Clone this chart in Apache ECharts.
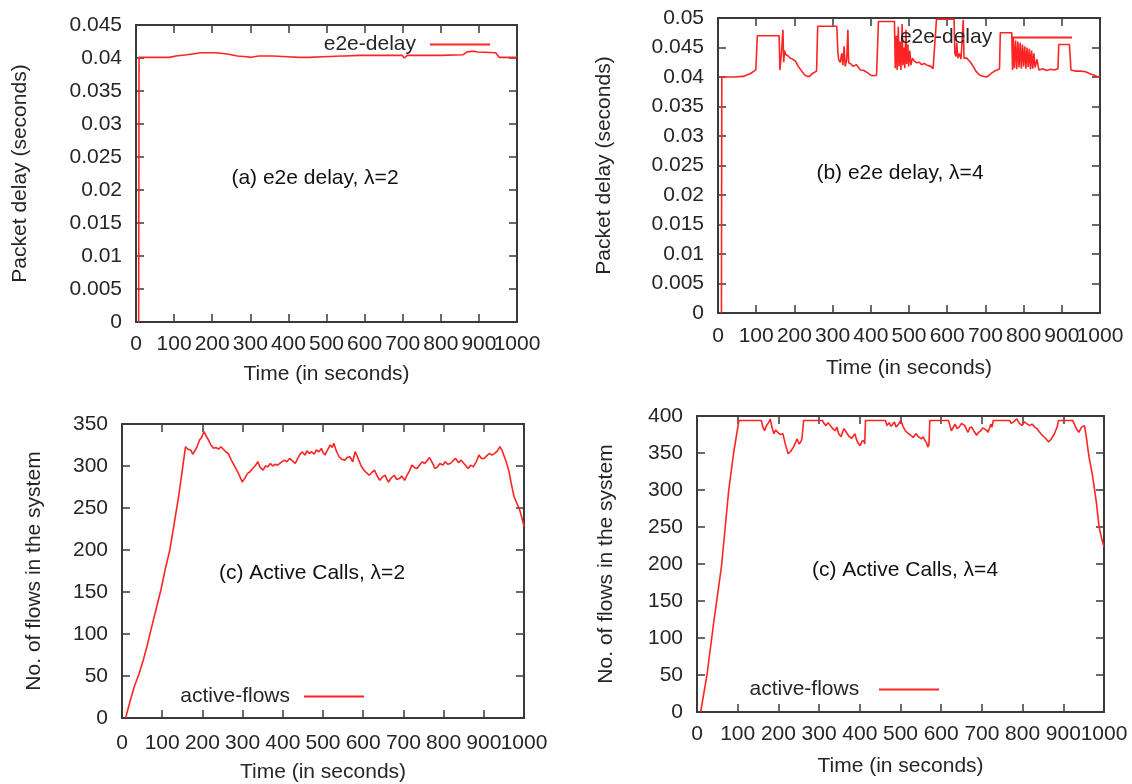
<!DOCTYPE html>
<html>
<head>
<meta charset="utf-8">
<script src="https://cdn.jsdelivr.net/npm/echarts@6/dist/echarts.min.js"></script>
<style>
html,body{margin:0;padding:0;background:#fff;}
#chart{width:1132px;height:784px;}
</style>
</head>
<body>
<div id="chart"></div>
<script>
// ---------------- data ----------------
const xTickInterval = 100;
const xMax = 1000;

const delayA = [[7,0],[8,0.0401],[87,0.0401],[105,0.0403],[134,0.0405],[171,0.0408],[209,0.0408],[214,0.0406],[240,0.0406],[266,0.0403],[290,0.0402],[303,0.0401],[310,0.0402],[322,0.0403],[360,0.0403],[397,0.0402],[430,0.0401],[454,0.0401],[456,0.0400],[458,0.0401],[492,0.0402],[539,0.0403],[543,0.0401],[548,0.0403],[586,0.0404],[650,0.0404],[699,0.0404],[704,0.0400],[708,0.0401],[712,0.0404],[800,0.0404],[859,0.0405],[868,0.0409],[880,0.0410],[885,0.0413],[890,0.0410],[896,0.0409],[944,0.0408],[953,0.0401],[1000,0.0401]];

const delayB = [[9,0],[10,0.0400],[40,0.0400],[66,0.0401],[85,0.0406],[99,0.0412],[103,0.0470],[160,0.0470],[162,0.0412],[166,0.0440],[170,0.0480],[172,0.0425],[174,0.0445],[177,0.0438],[183,0.0436],[189,0.0432],[196,0.0430],[203,0.0427],[210,0.0418],[217,0.0412],[226,0.0404],[233,0.0401],[240,0.0401],[245,0.0405],[250,0.0407],[258,0.0410],[261,0.0486],[311,0.0486],[314,0.0440],[316,0.0429],[320,0.0425],[324,0.0440],[327,0.0420],[330,0.0452],[333,0.0418],[337,0.0430],[340,0.0480],[342,0.0424],[348,0.0422],[354,0.0418],[362,0.0421],[368,0.0416],[373,0.0412],[382,0.0411],[392,0.0407],[400,0.0403],[406,0.0402],[415,0.0403],[418,0.0404],[420,0.0494],[462,0.0494],[464,0.0415],[467,0.0470],[469,0.0412],[472,0.0485],[474,0.0418],[477,0.0460],[479,0.0412],[482,0.0490],[484,0.0420],[487,0.0450],[489,0.0415],[492,0.0480],[494,0.0422],[497,0.0455],[499,0.0418],[502,0.0445],[505,0.0420],[509,0.0432],[514,0.0427],[520,0.0424],[527,0.0425],[533,0.0421],[540,0.0423],[547,0.0420],[557,0.0418],[563,0.0414],[568,0.0412],[572,0.0498],[618,0.0498],[620,0.0440],[623,0.0435],[625,0.0458],[628,0.0432],[632,0.0440],[636,0.0430],[639,0.0460],[642,0.0497],[644,0.0432],[646,0.0435],[651,0.0432],[656,0.0429],[661,0.0425],[665,0.0421],[670,0.0416],[675,0.0410],[682,0.0405],[689,0.0402],[696,0.0401],[703,0.0400],[710,0.0403],[717,0.0407],[724,0.0410],[731,0.0412],[737,0.0414],[739,0.0475],[769,0.0475],[771,0.0412],[773,0.0466],[776,0.0415],[779,0.0462],[782,0.0413],[785,0.0460],[788,0.0416],[791,0.0458],[794,0.0414],[797,0.0455],[800,0.0418],[803,0.0452],[806,0.0414],[809,0.0450],[812,0.0417],[815,0.0448],[818,0.0413],[821,0.0445],[824,0.0414],[827,0.0440],[830,0.0416],[835,0.0430],[840,0.0412],[850,0.0414],[860,0.0411],[870,0.0413],[880,0.0412],[890,0.0414],[892,0.0455],[920,0.0455],[924,0.0412],[935,0.0410],[950,0.0410],[962,0.0409],[975,0.0405],[985,0.0403],[995,0.0400],[1000,0.0400]];

const flowsC = [[9,0],[20,20],[31,38],[42,52],[53,69],[62,85],[70,101],[84,128],[97,153],[108,178],[119,200],[130,232],[141,264],[150,295],[158,323],[164,320],[171,319],[176,314],[180,315],[186,322],[193,331],[198,334],[204,341],[209,336],[215,331],[221,325],[228,321],[234,322],[240,320],[246,323],[252,320],[258,317],[264,315],[272,307],[281,299],[290,291],[299,281],[305,285],[312,291],[318,293],[325,297],[331,300],[338,305],[344,298],[351,295],[357,300],[363,299],[369,303],[375,300],[381,302],[387,301],[395,304],[404,307],[410,305],[417,309],[424,306],[431,303],[437,309],[443,314],[448,317],[455,313],[460,318],[466,315],[472,317],[478,314],[483,319],[490,317],[496,321],[500,316],[505,313],[511,319],[518,325],[523,322],[527,327],[533,318],[540,311],[547,308],[554,307],[560,310],[567,311],[574,305],[580,317],[585,312],[589,307],[595,300],[602,295],[608,292],[615,289],[621,292],[628,295],[634,289],[641,283],[648,287],[655,289],[659,284],[663,281],[670,286],[677,289],[683,284],[690,285],[696,288],[703,283],[709,289],[715,294],[721,301],[728,298],[734,297],[740,301],[747,305],[753,303],[760,307],[765,310],[769,311],[774,302],[778,297],[785,299],[791,303],[798,301],[804,305],[810,302],[817,303],[823,306],[830,309],[837,304],[844,307],[852,302],[861,297],[867,301],[874,299],[881,305],[888,313],[894,309],[901,309],[907,312],[914,315],[920,313],[927,315],[934,318],[940,323],[945,319],[949,317],[955,306],[962,295],[968,280],[975,264],[982,256],[989,248],[995,238],[1000,228]];

const flowsD = [[9,0],[25,52],[42,125],[60,196],[78,300],[90,350],[103,394],[158,394],[162,385],[166,380],[170,386],[173,389],[177,392],[180,396],[184,385],[189,376],[193,381],[197,380],[204,375],[211,376],[217,362],[224,349],[230,352],[237,358],[242,364],[246,369],[251,362],[255,365],[258,370],[262,394],[308,394],[312,390],[317,387],[322,391],[326,389],[332,384],[339,380],[344,385],[348,376],[354,372],[361,383],[367,378],[374,372],[380,370],[388,376],[392,368],[396,363],[401,360],[405,366],[410,367],[412,362],[414,394],[463,394],[467,387],[472,391],[477,386],[481,389],[485,392],[489,385],[495,389],[501,394],[506,386],[512,380],[518,377],[525,374],[531,371],[538,376],[544,372],[551,369],[556,372],[560,367],[564,364],[567,358],[570,362],[572,394],[618,394],[622,386],[625,380],[630,385],[634,389],[639,383],[644,385],[650,390],[658,387],[662,382],[666,378],[670,384],[675,385],[681,379],[687,374],[692,378],[697,380],[702,384],[706,385],[711,381],[715,378],[719,384],[722,389],[725,385],[728,394],[768,394],[772,390],[775,389],[780,393],[786,396],[792,390],[799,387],[804,392],[808,394],[812,389],[817,387],[823,389],[830,385],[835,383],[839,380],[845,376],[852,372],[858,369],[864,365],[869,368],[874,372],[878,376],[881,380],[885,385],[888,394],[923,394],[928,388],[932,383],[935,381],[938,378],[942,382],[945,385],[949,387],[952,387],[957,370],[963,345],[970,325],[976,304],[982,280],[988,250],[994,235],[1000,223]];

const panelNotes = ['(a) e2e delay, \u03bb=2', '(b) e2e delay, \u03bb=4', '(c) Active Calls, \u03bb=2', '(c) Active Calls, \u03bb=4'];
const seriesNames = ['e2e-delay', 'e2e-delay', 'active-flows', 'active-flows'];
const yMaxes = [0.045, 0.05, 350, 400];
const yIntervals = [0.005, 0.005, 50, 50];
const yTitles = ['Packet delay (seconds)', 'Packet delay (seconds)', 'No. of flows in the system', 'No. of flows in the system'];
const xTitle = 'Time (in seconds)';
const allData = [delayA, delayB, flowsC, flowsD];

// ---------------- layout ----------------
const FONT = '"Liberation Sans", Arial, sans-serif';
const FS = 21;
const TXT = '#262626';
const AX = '#3a3a3a';
const RED = '#ff2424';
const grids = [
  {left:136, top:25, width:381, height:297},
  {left:718, top:18, width:382, height:295},
  {left:122, top:424, width:402, height:294},
  {left:697, top:416, width:407, height:296}
];
const yNameGaps = [105, 103, 77, 80];
const xNameGaps = [42, 45, 44, 44];
const xLabelMargins = [12, 13, 15, 12];
const notePos = [[315,178],[900,173],[312,573],[905,570]];
// legend anchored by the right end of its line sample
const legendRight = [642, 60, 768, 193];
const legendTop = [34, 27, 686, 679];

function fmtY(v){ return String(parseFloat(v.toFixed(4))); }
// the last tick label is drawn by a label-only companion axis so that
// the crowded "900" and "1000" labels can touch as in the original
function fmtX(v){ return Math.round(v) === xMax ? '' : String(Math.round(v)); }
function fmtXLast(v){ return Math.round(v) === xMax ? String(xMax) : ''; }

const xAxis = [], yAxis = [], series = [], legend = [], graphic = [];
for (let i = 0; i < 4; i++) {
  const common = {
    gridIndex: i, type: 'value', min: 0,
    axisLine: {show: true, onZero: false, lineStyle: {color: AX, width: 2}},
    axisTick: {show: true, inside: true, length: 8, lineStyle: {color: AX, width: 1.5}},
    splitLine: {show: false}
  };
  const xLabel = {color: TXT, fontFamily: FONT, fontSize: FS, margin: xLabelMargins[i],
      hideOverlap: false, showMaxLabel: true, showMinLabel: true};
  xAxis.push(Object.assign({}, common, {
    position: 'bottom', max: xMax, interval: xTickInterval,
    axisLabel: Object.assign({}, xLabel, {formatter: fmtX}),
    name: xTitle, nameLocation: 'middle', nameGap: xNameGaps[i],
    nameTextStyle: {color: TXT, fontFamily: FONT, fontSize: FS}
  }));
  xAxis.push(Object.assign({}, common, {
    position: 'top', max: xMax, interval: xTickInterval, axisLabel: {show: false}
  }));
  xAxis.push({
    gridIndex: i, type: 'value', min: 0, max: xMax, interval: xTickInterval,
    position: 'bottom', axisLine: {show: false, onZero: false}, axisTick: {show: false},
    splitLine: {show: false},
    axisLabel: Object.assign({}, xLabel, {formatter: fmtXLast})
  });
  yAxis.push(Object.assign({}, common, {
    position: 'left', max: yMaxes[i], interval: yIntervals[i],
    axisLabel: {color: TXT, fontFamily: FONT, fontSize: FS, margin: 14, formatter: fmtY, hideOverlap: false},
    name: yTitles[i], nameLocation: 'middle', nameGap: yNameGaps[i],
    nameTextStyle: {color: TXT, fontFamily: FONT, fontSize: FS}
  }));
  yAxis.push(Object.assign({}, common, {
    position: 'right', max: yMaxes[i], interval: yIntervals[i], axisLabel: {show: false}
  }));
  series.push({
    name: seriesNames[i] + (i % 2 ? ' ' : ''),
    type: 'line', xAxisIndex: 3 * i, yAxisIndex: 2 * i,
    data: allData[i], showSymbol: false, symbol: 'none',
    lineStyle: {color: RED, width: 1.6}, itemStyle: {color: RED},
    animation: false, z: 3
  });
  legend.push({
    data: [{name: seriesNames[i] + (i % 2 ? ' ' : ''), icon: 'rect'}],
    right: legendRight[i], top: legendTop[i], padding: 0,
    align: 'right', itemWidth: 60, itemHeight: 2, selectedMode: false,
    textStyle: {color: TXT, fontFamily: FONT, fontSize: FS, padding: [0, 9, 0, 0]},
    itemStyle: {color: RED}
  });
  graphic.push({
    type: 'text', x: notePos[i][0], y: notePos[i][1],
    style: {text: panelNotes[i], fill: '#111', font: '21px ' + FONT, textAlign: 'center', textVerticalAlign: 'middle'}
  });
}

const chart = echarts.init(document.getElementById('chart'), null, {renderer: 'canvas'});
chart.setOption({
  backgroundColor: '#fff',
  animation: false,
  grid: grids,
  xAxis: xAxis, yAxis: yAxis, series: series, legend: legend, graphic: graphic
});
</script>
</body>
</html>
